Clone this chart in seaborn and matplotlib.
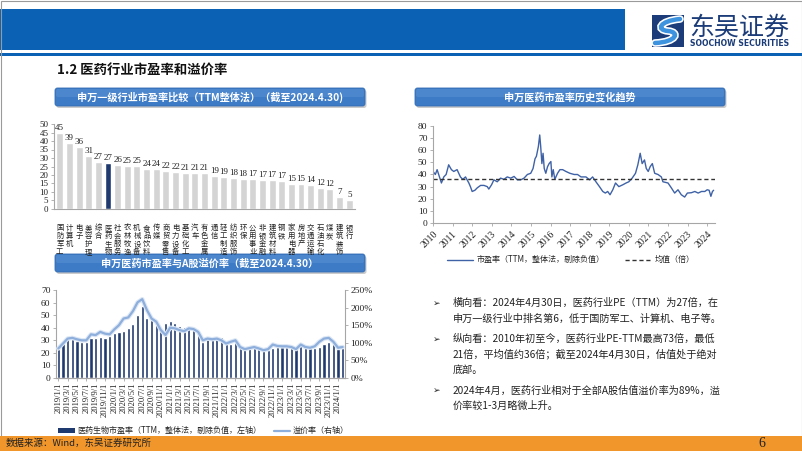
import numpy as np
import pandas as pd
import matplotlib
matplotlib.use("Agg")
import matplotlib.pyplot as plt
import seaborn as sns
from matplotlib.patches import Rectangle, FancyBboxPatch, Patch, PathPatch
from matplotlib.path import Path
from matplotlib.lines import Line2D
import matplotlib.patheffects as pe

W, H = 802, 451

# ---- data: SW level-1 industry PE (TTM), 2024-04-30 ----
industries = ["国防军工", "计算机", "电子", "美容护理", "综合", "医药生物", "社会服务",
              "农林牧渔", "机械设备", "食品饮料", "传媒", "商贸零售", "电力设备", "基础化工",
              "汽车", "有色金属", "通信", "轻工制造", "纺织服饰", "环保", "公用事业",
              "非银金融", "建筑材料", "钢铁", "家用电器", "房地产", "交通运输", "石油石化",
              "煤炭", "建筑装饰", "银行"]
industry_pe = [44.6, 38.6, 36.2, 31.2, 27.4, 27.3, 25.8, 25.2, 25.1, 23.8, 23.6, 22.3, 21.9,
               21.4, 21.1, 21.0, 19.3, 19.1, 18.3, 17.9, 17.4, 17.3, 17.2, 16.7, 14.8, 14.6,
               14.4, 12.4, 11.9, 7.2, 5.3]
highlight = "医药生物"

# ---- data: SW pharma PE history (decimal year, PE) ----
hist_year = [2010.00, 2010.12, 2010.21, 2010.29, 2010.43, 2010.55, 2010.67, 2010.80, 2010.94,
             2011.06, 2011.23, 2011.40, 2011.52, 2011.66, 2011.83, 2011.91, 2012.00, 2012.14,
             2012.26, 2012.43, 2012.60, 2012.77, 2012.85, 2012.99, 2013.11, 2013.28, 2013.45,
             2013.62, 2013.79, 2013.97, 2014.14, 2014.31, 2014.48, 2014.65, 2014.82, 2014.99,
             2015.11, 2015.21, 2015.28, 2015.38, 2015.45, 2015.50, 2015.56, 2015.62, 2015.68,
             2015.76, 2015.85, 2015.93, 2016.02, 2016.07, 2016.14, 2016.22, 2016.36, 2016.48,
             2016.62, 2016.79, 2016.99, 2017.21, 2017.38, 2017.56, 2017.81, 2018.00, 2018.15,
             2018.32, 2018.50, 2018.67, 2018.80, 2018.92, 2019.04, 2019.18, 2019.32, 2019.49,
             2019.69, 2019.86, 2020.00, 2020.17, 2020.34, 2020.46, 2020.58, 2020.68, 2020.80,
             2020.89, 2020.99, 2021.09, 2021.20, 2021.32, 2021.49, 2021.66, 2021.74, 2022.00,
             2022.17, 2022.34, 2022.51, 2022.68, 2022.85, 2022.99, 2023.20, 2023.37, 2023.54,
             2023.71, 2023.88, 2024.00, 2024.10, 2024.19, 2024.27, 2024.33]
hist_pe = [42.5, 40, 44, 40, 33, 38, 40, 48, 44,
           42.5, 44, 38, 36, 38, 33, 30, 26, 27,
           29, 31, 31, 30, 28, 31.5, 35.6, 34, 37,
           36, 38, 37, 38.4, 35.6, 35.6, 37, 40, 41,
           45, 53, 55, 63, 72.6, 63, 49, 57.5, 45,
           41, 46.5, 49, 50.7, 38, 44, 36, 41, 44,
           44, 42.5, 41, 40, 40, 38, 38, 35.6, 38,
           34, 30, 26, 24.7, 26, 23.3, 27.4, 33, 30,
           31.5, 33, 34, 37, 41, 48, 57.5, 49, 52,
           45, 42.5, 46.5, 49, 41, 40, 38, 34, 33,
           29, 24.7, 27.4, 23.3, 21.4, 24.7, 25, 26, 24.7,
           26, 26, 27.4, 27, 22, 26, 27]
hist_mean = 36
years = list(range(2010, 2025))

# ---- data: pharma PE vs A-share premium, monthly from 2019/1 ----
premium_pe = [23.4, 28.0, 32.0, 31.0, 29.5, 28.7, 28.7, 32.0, 32.0, 32.7, 32.0, 33.5,
              35.4, 36.7, 37.2, 40.0, 42.8, 50.0, 57.4, 48.0, 46.0, 44.0, 40.0, 44.0,
              45.0, 43.5, 41.0, 40.5, 40.5, 40.5, 35.0, 28.7, 32.7, 32.0, 32.7, 32.7,
              28.7, 27.4, 28.7, 24.7, 23.4, 25.0, 26.0, 24.0, 22.0, 22.0, 24.0, 25.0,
              25.0, 25.0, 24.7, 24.0, 26.6, 24.7, 24.0, 24.0, 25.0, 27.4, 28.7, 27.4,
              23.4, 24.0]
premium_rate = [84, 98, 112, 114, 110, 107, 107, 124, 122, 131, 126, 124,
                138, 150, 169, 172, 190, 215, 224, 193, 169, 160, 136, 122,
                143, 141, 136, 133, 141, 139, 131, 107, 112, 110, 112, 107,
                98, 103, 107, 88, 82, 85, 88, 84, 79, 82, 95, 91,
                90, 90, 88, 82, 95, 88, 86, 90, 103, 112, 114, 103,
                86, 88]
months = pd.date_range("2019-01-01", periods=len(premium_pe), freq="MS")
month_labels = [f"{d.year}/{d.month}/1" for d in months]

bullets = [
    ["横向看：2024年4月30日，医药行业PE（TTM）为27倍，在",
     "申万一级行业中排名第6，低于国防军工、计算机、电子等。"],
    ["纵向看：2010年初至今，医药行业PE-TTM最高73倍，最低",
     "21倍，平均值约36倍；截至2024年4月30日，估值处于绝对",
     "底部。"],
    ["2024年4月，医药行业相对于全部A股估值溢价率为89%，溢",
     "价率较1-3月略微上升。"],
]

sns.set_theme(style="white")
plt.rcParams["font.family"] = ["Noto Sans CJK SC", "DejaVu Sans"]
plt.rcParams["axes.unicode_minus"] = False
SERIF = "Liberation Serif"
AXCOL = "#A6A6A6"
NAVY = "#1F3A6E"

fig = plt.figure(figsize=(W / 100, H / 100), dpi=100)


def px_axes(x0, y0, x1, y1):
    return fig.add_axes([x0 / W, 1 - y1 / H, (x1 - x0) / W, (y1 - y0) / H])


def style_axes(ax, left=True, right=False):
    for s in ["top", "right", "left", "bottom"]:
        ax.spines[s].set_visible(False)
    ax.spines["bottom"].set_visible(True)
    ax.spines["bottom"].set_color(AXCOL)
    ax.spines["bottom"].set_linewidth(0.8)
    if left:
        ax.spines["left"].set_visible(True)
        ax.spines["left"].set_color(AXCOL)
        ax.spines["left"].set_linewidth(0.8)
    if right:
        ax.spines["right"].set_visible(True)
        ax.spines["right"].set_color(AXCOL)
        ax.spines["right"].set_linewidth(0.8)
    ax.set_xlabel("")
    ax.set_ylabel("")
    ax.set_facecolor("none")


def serif_ticks(labels, size):
    for t in labels:
        t.set_fontfamily(SERIF)
        t.set_fontsize(size)
        t.set_color("#222222")


# ---- slide decoration ----
deco = px_axes(0, 0, W, H)
deco.set_xlim(0, W)
deco.set_ylim(H, 0)
deco.axis("off")

deco.add_patch(Rectangle((0, 9), 625, 41, fc="#0B62B4", ec="none"))
deco.add_patch(Rectangle((0, 53), W, 2.5, fc="#0B62B4", ec="none"))
deco.add_patch(Rectangle((0.5, 0.5), W - 1, H - 1, fill=False, ec="#9A9A9A", lw=0.8))

# logo
deco.add_patch(Rectangle((652, 15), 32, 32, fc="#1B3C78", ec="none"))
logo_path = Path([(680, 19), (659, 21), (656, 30), (668, 31), (680, 32), (677, 42), (655, 43)],
                 [Path.MOVETO, Path.CURVE4, Path.CURVE4, Path.CURVE4, Path.CURVE4, Path.CURVE4, Path.CURVE4])
deco.add_patch(PathPatch(logo_path, fill=False, ec="white", lw=5.5, capstyle="round"))
deco.add_patch(PathPatch(logo_path, fill=False, ec="#3E93DE", lw=3.2, capstyle="round"))
deco.text(689, 28, "东吴证券", fontsize=18, color="#1B3C78", va="center", ha="left")
deco.text(690, 44, "SOOCHOW SECURITIES", fontsize=5.6, color="#1B3C78", fontweight="bold",
          family=["DejaVu Sans"], va="center", ha="left")

deco.text(57, 70, "1.2 医药行业市盈率和溢价率", fontsize=9.6, fontweight="bold",
          color="#111111", va="center", ha="left")


def header(x0, y0, w, h, text):
    deco.add_patch(FancyBboxPatch((x0 + 1.5, y0 + 2), w, h, boxstyle="round,pad=0,rounding_size=2.5",
                                  fc="#8C8C8C", ec="none", alpha=0.45))
    deco.add_patch(FancyBboxPatch((x0, y0), w, h, boxstyle="round,pad=0,rounding_size=2.5",
                                  fc="#3D7BC6", ec="#336CB3", lw=0.6))
    deco.add_patch(FancyBboxPatch((x0 + 1, y0 + 1), w - 2, h / 2 - 1, boxstyle="round,pad=0,rounding_size=2",
                                  fc="#5F97D8", ec="none", alpha=0.45))
    deco.text(x0 + w / 2, y0 + h / 2 + 0.5, text, color="white", fontsize=7.3, fontweight="bold",
              ha="center", va="center")


header(55, 88, 310, 18, "申万一级行业市盈率比较（TTM整体法）（截至2024.4.30)")
header(415, 88, 310, 18, "申万医药市盈率历史变化趋势")
header(55, 254, 310, 18, "申万医药市盈率与A股溢价率（截至2024.4.30）")

# bullets
y = 303
for para in bullets:
    deco.text(437, y, "➢", fontsize=6.5, family=["DejaVu Sans"], ha="center", va="center", color="#222222")
    for line in para:
        deco.text(453, y, line, fontsize=7.3, ha="left", va="center", color="#222222")
        y += 15.5
    y += 5

# footer
deco.add_patch(Rectangle((0, 436), W, 15, fc="#F0962A", ec="none"))
deco.text(6, 443.5, "数据来源：Wind，东吴证券研究所", fontsize=6.8, color="#222222", va="center", ha="left")
deco.text(762, 443.5, "6", fontsize=10, family=SERIF, color="#222222", va="center", ha="center")

# ---- chart 1: industry PE bars ----
ax1 = px_axes(54, 124, 355, 209)
bar_colors = {n: (NAVY if n == highlight else "#D4D4D4") for n in industries}
sns.barplot(x=industries, y=industry_pe, hue=industries, palette=bar_colors, legend=False,
            width=0.72, saturation=1, ax=ax1)
for i, v in enumerate(industry_pe):
    ax1.text(i, v + 0.6, f"{v:.0f}", ha="center", va="bottom", fontsize=6.5, family=SERIF, color="#222222")
ax1.set_ylim(0, 50)
ax1.set_yticks(range(0, 51, 5))
ax1.set_xlim(-0.6, len(industries) - 0.4)
ax1.set_xticks(range(len(industries)))
ax1.set_xticklabels(["\n".join(n) for n in industries], fontsize=5.3, linespacing=1.0,
                    va="top", color="#222222")
style_axes(ax1)
ax1.tick_params(axis="y", left=True, length=2.5, width=0.6, color=AXCOL, pad=1.5)
ax1.tick_params(axis="x", bottom=False, pad=5)
serif_ticks(ax1.get_yticklabels(), 6.5)

# ---- chart 2: PE history ----
ax2 = px_axes(433, 126, 715, 223)
sns.lineplot(x=hist_year, y=hist_pe, color="#3F62A6", lw=1.0, ax=ax2,
             label="市盈率（TTM，整体法，剔除负值）")
ax2.axhline(hist_mean, color="#333333", lw=1.0, ls=(0, (3, 2)), label="均值（倍）")
ax2.set_ylim(0, 80)
ax2.set_yticks(range(0, 81, 10))
ax2.set_xlim(2010, 2024.4)
ax2.set_xticks(years)
ax2.set_xticklabels([str(yr) for yr in years], rotation=45, ha="right", rotation_mode="anchor")
style_axes(ax2)
ax2.tick_params(axis="y", left=True, length=2.5, width=0.6, color=AXCOL, pad=1.5)
ax2.tick_params(axis="x", bottom=True, length=2.5, width=0.6, color=AXCOL, pad=2)
serif_ticks(ax2.get_yticklabels(), 6.8)
serif_ticks(ax2.get_xticklabels(), 7)
ax2.legend(loc="center", bbox_to_anchor=(0.49, -0.38), ncol=2, frameon=False, fontsize=5.8,
           handlelength=3.2, columnspacing=2.5, handletextpad=0.5)

# ---- chart 3: PE bars + premium line ----
ax3 = px_axes(56, 290, 345, 378)
sns.barplot(x=month_labels, y=premium_pe, color=NAVY, width=0.68, saturation=1, ax=ax3)
ax3.set_ylim(0, 70)
ax3.set_yticks(range(0, 71, 10))
ax3.set_xlim(-0.5, len(month_labels) - 0.5)
ax3.set_xticks(range(0, len(month_labels), 2))
ax3.set_xticklabels(month_labels[::2], rotation=90)
style_axes(ax3)
ax3.tick_params(axis="y", left=True, length=2.5, width=0.6, color=AXCOL, pad=1.5)
ax3.tick_params(axis="x", bottom=True, length=2, width=0.6, color=AXCOL, pad=1.5)
serif_ticks(ax3.get_yticklabels(), 6.8)
serif_ticks(ax3.get_xticklabels(), 6.2)

ax3r = ax3.twinx()
sns.lineplot(x=np.arange(len(premium_rate)), y=premium_rate, color="#8EAEDC", lw=1.6, ax=ax3r,
             path_effects=[pe.withStroke(linewidth=3.2, foreground="#DCE7F5")])
ax3r.set_ylim(0, 250)
ax3r.set_yticks(range(0, 251, 50))
ax3r.set_yticklabels([f"{v}%" for v in range(0, 251, 50)])
ax3r.set_xlim(-0.5, len(month_labels) - 0.5)
style_axes(ax3r, left=False, right=True)
ax3r.tick_params(axis="y", right=True, length=2.5, width=0.6, color=AXCOL, pad=1.5)
serif_ticks(ax3r.get_yticklabels(), 6.8)

handles = [Patch(fc=NAVY, ec="none"), Line2D([], [], color="#8EAEDC", lw=1.6)]
ax3.legend(handles, ["医药生物市盈率（TTM，整体法，剔除负值，左轴）", "溢价率（右轴）"],
           loc="center", bbox_to_anchor=(0.51, -0.6), ncol=2, frameon=False, fontsize=5.8,
           handlelength=2.0, handleheight=0.5, columnspacing=1.6, handletextpad=0.3)

fig.savefig("out.png", dpi=100)
